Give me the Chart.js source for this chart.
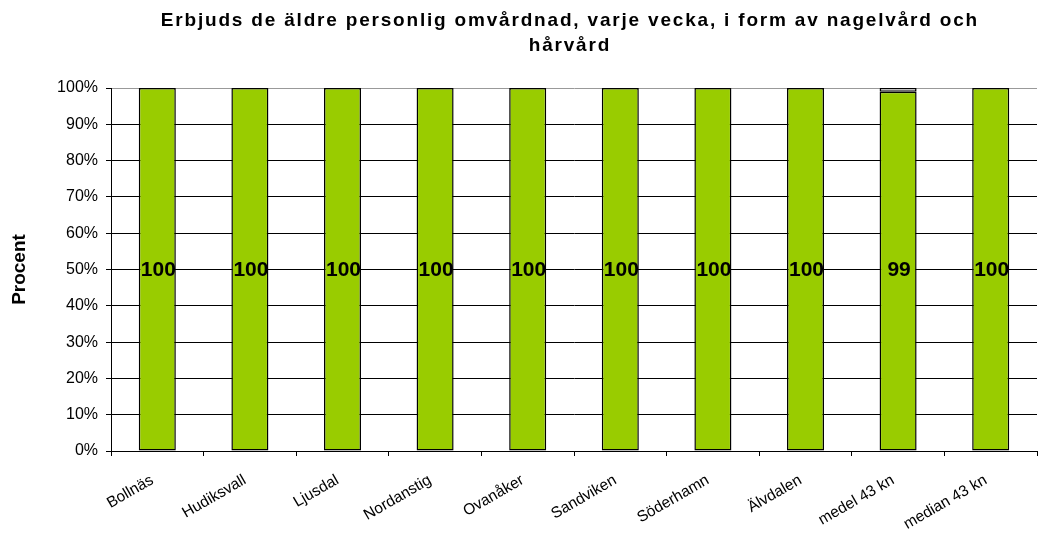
<!DOCTYPE html>
<html>
<head>
<meta charset="utf-8">
<script src="https://cdn.jsdelivr.net/npm/chart.js@4/dist/chart.umd.min.js"></script>
<style>
html,body{margin:0;padding:0;background:#fff;}
#wrap{width:1053px;height:537px;position:relative;}
</style>
</head>
<body>
<div id="wrap"><canvas id="c" width="1053" height="537"></canvas></div>
<script>
const categories = ["Bollnäs","Hudiksvall","Ljusdal","Nordanstig","Ovanåker","Sandviken","Söderhamn","Älvdalen","medel 43 kn","median 43 kn"];
const yesValues = [100,100,100,100,100,100,100,100,99,100];
const noValues = [0,0,0,0,0,0,0,0,1,0];
const yTickLabels = ["0%","10%","20%","30%","40%","50%","60%","70%","80%","90%","100%"];
const titleLines = ["Erbjuds de äldre personlig omvårdnad, varje vecka, i form av nagelvård och","hårvård"];

const FONT = "'Liberation Sans', Arial, sans-serif";

const titlePlugin = {
  id: 'customTitle',
  afterDraw(chart) {
    const ctx = chart.ctx;
    ctx.save();
    ctx.font = "bold 19px " + FONT;
    ctx.fillStyle = "#000";
    ctx.textAlign = "center";
    ctx.textBaseline = "middle";
    const w0 = ctx.measureText(titleLines[0]).width;
    const ls = Math.max(0, (818 - w0) / titleLines[0].length);
    try { ctx.letterSpacing = ls.toFixed(2) + "px"; } catch(e) {}
    const cx = 569 + ls / 2;
    ctx.fillText(titleLines[0], cx, 21);
    ctx.fillText(titleLines[1], cx, 46);
    ctx.restore();
  }
};

const labelPlugin = {
  id: 'barLabels',
  afterDatasetsDraw(chart) {
    const ctx = chart.ctx;
    const meta = chart.getDatasetMeta(0);
    const y = chart.scales.y;
    ctx.save();
    ctx.font = "bold 21px " + FONT;
    ctx.fillStyle = "#000";
    ctx.textAlign = "center";
    ctx.textBaseline = "middle";
    meta.data.forEach((bar, i) => {
      ctx.fillText(String(yesValues[i]), bar.x + 1, y.getPixelForValue(50) + 1);
    });
    ctx.restore();
  }
};

new Chart(document.getElementById('c'), {
  type: 'bar',
  data: {
    labels: categories,
    datasets: [
      {
        label: 'Ja',
        data: yesValues,
        backgroundColor: '#99CC00',
        borderColor: '#000',
        borderWidth: 1.5,
        borderSkipped: false,
        categoryPercentage: 1,
        barPercentage: 0.4
      },
      {
        label: 'Nej',
        data: noValues,
        backgroundColor: '#ffffff',
        borderColor: '#000',
        borderWidth: 1.5,
        borderSkipped: false,
        categoryPercentage: 1,
        barPercentage: 0.4
      }
    ]
  },
  options: {
    responsive: false,
    animation: false,
    layout: { padding: { top: 88, right: 16, left: 0, bottom: 0 } },
    plugins: {
      legend: { display: false },
      title: { display: false },
      tooltip: { enabled: false }
    },
    scales: {
      x: {
        stacked: true,
        grid: { display: true, drawOnChartArea: false, offset: true, tickLength: 5, color: '#000' },
        border: { display: true, color: '#000', width: 1 },
        ticks: {
          color: '#000',
          font: { family: FONT, size: 15.5 },
          minRotation: 30,
          maxRotation: 30,
          autoSkip: false,
          padding: 15,
          labelOffset: -5
        },
        afterFit(scale) { scale.height = 86; }
      },
      y: {
        stacked: true,
        min: 0,
        max: 100,
        ticks: {
          stepSize: 10,
          color: '#000',
          font: { family: FONT, size: 16 },
          padding: 8,
          callback: (v) => yTickLabels[Math.round(v / 10)]
        },
        grid: {
          color: (c) => (c.tick && c.tick.value === 100) ? '#999' : '#000',
          tickColor: '#000',
          tickLength: 5,
          lineWidth: 1
        },
        border: { display: true, color: '#000', width: 1 },
        title: {
          display: true,
          text: 'Procent',
          color: '#000',
          font: { family: FONT, size: 19, weight: 'bold' },
          padding: { top: 8, bottom: 0 }
        },
        afterFit(scale) { scale.width = 111; }
      }
    }
  },
  plugins: [titlePlugin, labelPlugin]
});
</script>
</body>
</html>
